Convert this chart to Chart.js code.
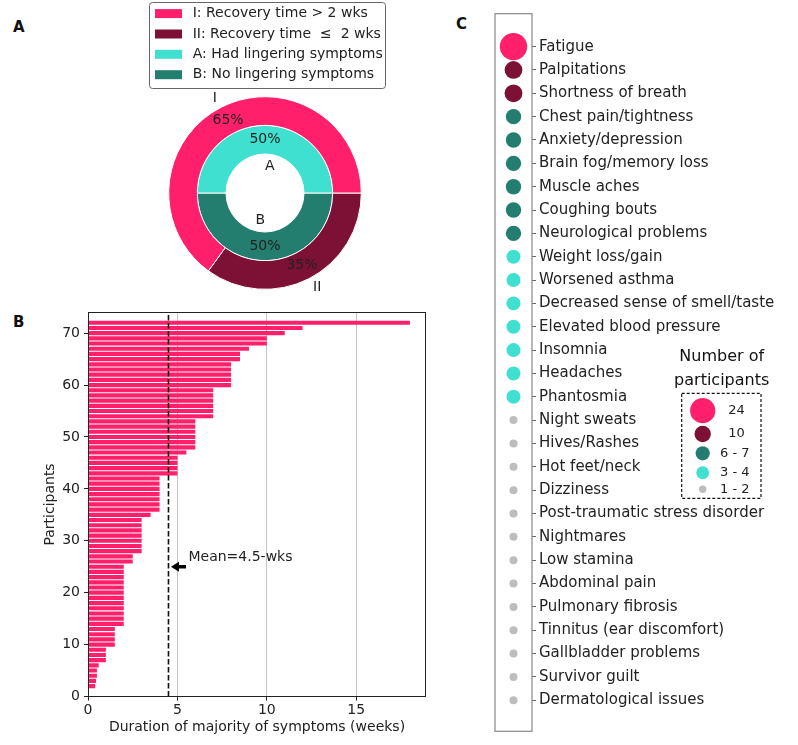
<!DOCTYPE html>
<html>
<head>
<meta charset="utf-8">
<script src="https://cdn.jsdelivr.net/npm/chart.js@4.4.1/dist/chart.umd.min.js"></script>
<style>
  body { margin: 0; background: #fff; }
  #fig { position: relative; width: 798px; height: 745px; overflow: hidden; }
  .panel { position: absolute; }
  .tag { position: absolute; font: bold 15px 'DejaVu Sans', sans-serif; line-height: 18px; color: #111; }
</style>
</head>
<body>
<div id="fig">
  <div class="tag" style="left:13px;top:18px">A</div>
  <div class="tag" style="left:13px;top:313px">B</div>
  <div class="tag" style="left:456px;top:15px">C</div>
  <canvas id="pie" class="panel" width="260" height="300" style="left:140px;top:0px"></canvas>
  <canvas id="bars" class="panel" width="440" height="445" style="left:0px;top:300px"></canvas>
  <canvas id="dots" class="panel" width="358" height="745" style="left:440px;top:0px"></canvas>
</div>
<script>
// ---- panel A: recovery / lingering symptoms
const recoveryLabels = ['I', 'II'];
const recoveryPct = [65, 35];
const lingeringLabels = ['A', 'B'];
const lingeringPct = [50, 50];
const legendText = [
  'I: Recovery time > 2 wks',
  'II: Recovery time  \u2264  2 wks',
  'A: Had lingering symptoms',
  'B: No lingering symptoms'
];

// ---- panel B: duration per participant (weeks), sorted
const durations = [
  0, 0.4, 0.45, 0.5, 0.5, 0.6,
  1, 1, 1,
  1.5, 1.5, 1.5, 1.5,
  2, 2, 2, 2, 2, 2, 2, 2, 2, 2, 2, 2,
  2.5, 2.5,
  3, 3, 3, 3, 3, 3, 3,
  3.5,
  4, 4, 4, 4, 4, 4, 4,
  5, 5, 5, 5,
  5.5,
  6, 6, 6, 6, 6, 6,
  7, 7, 7, 7, 7, 7,
  8, 8, 8, 8, 8,
  8.5, 8.5,
  9,
  10, 10,
  11, 12, 18
];
const meanWeeks = 4.5;
const xTicksB = [0, 5, 10, 15];
const yTicksB = [0, 10, 20, 30, 40, 50, 60, 70];

// ---- panel C: symptoms and number of participants
const symptoms = [
  'Fatigue', 'Palpitations', 'Shortness of breath', 'Chest pain/tightness',
  'Anxiety/depression', 'Brain fog/memory loss', 'Muscle aches', 'Coughing bouts',
  'Neurological problems', 'Weight loss/gain', 'Worsened asthma',
  'Decreased sense of smell/taste', 'Elevated blood pressure', 'Insomnia',
  'Headaches', 'Phantosmia', 'Night sweats', 'Hives/Rashes', 'Hot feet/neck',
  'Dizziness', 'Post-traumatic stress disorder', 'Nightmares', 'Low stamina',
  'Abdominal pain', 'Pulmonary fibrosis', 'Tinnitus (ear discomfort)',
  'Gallbladder problems', 'Survivor guilt', 'Dermatological issues'
];
const counts = [24, 10, 10, 7, 7, 6, 6, 6, 6, 4, 4, 3, 3, 3, 3, 3,
  2, 2, 2, 2, 1, 1, 1, 1, 1, 1, 1, 1, 1];
const binLabels = ['  24', '  10', '6 - 7', '3 - 4', '1 - 2'];
const binCounts = [24, 10, 7, 4, 2];

const PINK = '#ff1f6b', DARK = '#7d1035', TEAL = '#237e70', TURQ = '#40e0d0', GREY = '#bdbdbd';
const FONT = "'DejaVu Sans', sans-serif";
Chart.defaults.font.family = FONT;
Chart.defaults.color = '#222';

function colorFor(c) {
  if (c >= 20) return PINK;
  if (c >= 8) return DARK;
  if (c >= 5) return TEAL;
  if (c >= 3) return TURQ;
  return GREY;
}
function radiusFor(c) {
  if (c >= 20) return 13.7;
  if (c >= 8) return 8.9;
  if (c >= 5) return 7.7;
  if (c >= 3) return 7.0;
  return 4.0;
}

// ---------- A ----------
const recoveryColors = [PINK, DARK];
const lingeringColors = [TURQ, TEAL];

function mplAlign(mid) {
  const t = -mid;
  const c = Math.cos(t);
  if (Math.abs(c) < 1e-9) return Math.sin(t) > 0 ? 'left' : 'right';
  return c > 0 ? 'left' : 'right';
}

const ringText = {
  id: 'ringText',
  afterDraw(chart) {
    const ctx = chart.ctx;
    ctx.save();
    ctx.font = '14px ' + FONT;
    ctx.fillStyle = '#222';
    ctx.textBaseline = 'middle';
    const outer = chart.getDatasetMeta(0).data;
    const inner = chart.getDatasetMeta(1).data;
    const outNames = recoveryLabels.slice().reverse();
    const outPct = recoveryPct.slice().reverse();
    const inNames = lingeringLabels.slice().reverse();
    const inPct = lingeringPct.slice().reverse();
    outer.forEach((a, i) => {
      const mid = (a.startAngle + a.endAngle) / 2;
      const R = a.outerRadius;
      ctx.textAlign = mplAlign(mid);
      ctx.fillText(outNames[i], a.x + Math.cos(mid) * R * 1.1, a.y + Math.sin(mid) * R * 1.1);
      ctx.textAlign = 'center';
      ctx.fillText(outPct[i] + '%', a.x + Math.cos(mid) * R * 0.845, a.y + Math.sin(mid) * R * 0.845);
    });
    inner.forEach((a, i) => {
      const mid = (a.startAngle + a.endAngle) / 2;
      const rm = (a.innerRadius + a.outerRadius) / 2;
      ctx.textAlign = 'center';
      ctx.fillText(inPct[i] + '%', a.x + Math.cos(mid) * rm, a.y + Math.sin(mid) * rm);
      const rn = a.outerRadius * 0.4;
      ctx.textAlign = mplAlign(mid);
      ctx.fillText(inNames[i], a.x + Math.cos(mid) * rn, a.y + Math.sin(mid) * rn);
    });

    // legend box
    ctx.strokeStyle = '#666';
    ctx.lineWidth = 1;
    ctx.beginPath();
    ctx.roundRect(9.5, 2.5, 236, 86, 3);
    ctx.stroke();
    const swatches = recoveryColors.concat(lingeringColors);
    const rows = [13.6, 34, 54.3, 74.7];
    ctx.textAlign = 'left';
    legendText.forEach((t, i) => {
      ctx.fillStyle = swatches[i];
      ctx.fillRect(15, rows[i] - 4.5, 27, 9);
      ctx.fillStyle = '#222';
      ctx.fillText(t, 52.7, rows[i]);
    });
    ctx.restore();
  }
};

new Chart(document.getElementById('pie'), {
  type: 'doughnut',
  data: {
    labels: recoveryLabels.slice().reverse(),
    datasets: [
      { data: recoveryPct.slice().reverse(), backgroundColor: recoveryColors.slice().reverse(), borderColor: '#fff', borderWidth: 1 },
      { data: lingeringPct.slice().reverse(), backgroundColor: lingeringColors.slice().reverse(), borderColor: '#fff', borderWidth: 1 }
    ]
  },
  options: {
    responsive: false,
    animation: false,
    rotation: 90,
    cutout: '40.5%',
    layout: { padding: { left: 28.2, right: 38.2, top: 96.2, bottom: 10.2 } },
    plugins: { legend: { display: false }, tooltip: { enabled: false } }
  },
  plugins: [ringText]
});

// ---------- B ----------
const meanMarker = {
  id: 'meanMarker',
  afterDraw(chart) {
    const { ctx, chartArea: area } = chart;
    const xs = chart.scales.x, ys = chart.scales.y;
    ctx.save();
    const mx = xs.getPixelForValue(meanWeeks);
    ctx.strokeStyle = '#111';
    ctx.lineWidth = 1.6;
    ctx.setLineDash([5.5, 2.5]);
    ctx.beginPath();
    ctx.moveTo(mx, area.bottom);
    ctx.lineTo(mx, area.top);
    ctx.stroke();
    ctx.setLineDash([]);

    // spines
    ctx.strokeStyle = '#222';
    ctx.lineWidth = 1;
    ctx.strokeRect(Math.round(area.left) + 0.5, Math.round(area.top) + 0.5,
      Math.round(area.width) - 1, Math.round(area.height));

    // arrow + text
    const ay = ys.getPixelForValue(25);
    const tip = mx + 2.5;
    ctx.fillStyle = '#000';
    ctx.beginPath();
    ctx.moveTo(tip, ay);
    ctx.lineTo(tip + 8, ay - 5);
    ctx.lineTo(tip + 8, ay - 1.8);
    ctx.lineTo(tip + 15, ay - 1.8);
    ctx.lineTo(tip + 15, ay + 1.8);
    ctx.lineTo(tip + 8, ay + 1.8);
    ctx.lineTo(tip + 8, ay + 5);
    ctx.closePath();
    ctx.fill();
    ctx.font = '14px ' + FONT;
    ctx.fillStyle = '#222';
    ctx.textAlign = 'left';
    ctx.textBaseline = 'middle';
    ctx.fillText('Mean=' + meanWeeks + '-wks', mx + 20, ay - 9);
    ctx.restore();
  }
};

new Chart(document.getElementById('bars'), {
  type: 'bar',
  data: {
    datasets: [{
      data: durations.map((d, i) => ({ x: d, y: i + 1 })),
      backgroundColor: PINK,
      borderWidth: 0,
      barPercentage: 0.8,
      categoryPercentage: 1
    }]
  },
  options: {
    indexAxis: 'y',
    responsive: false,
    animation: false,
    layout: { padding: { top: 11, right: 14, left: 0, bottom: 0 } },
    plugins: { legend: { display: false }, tooltip: { enabled: false } },
    scales: {
      x: {
        type: 'linear', min: 0, max: 18.9, z: 1,
        afterBuildTicks: s => { s.ticks = xTicksB.map(v => ({ value: v })); },
        afterFit: s => { s.height = 48.5; },
        grid: {
          color: c => (c.tick && c.tick.value === 0) ? 'rgba(0,0,0,0)' : '#c4c4c4',
          tickColor: '#222', tickLength: 4, lineWidth: 1
        },
        border: { display: false },
        ticks: { font: { size: 14 }, color: '#222', padding: 1, maxRotation: 0 },
        title: {
          display: true, text: 'Duration of majority of symptoms (weeks)',
          font: { size: 14 }, color: '#222', padding: { top: 0, bottom: 9.6 }
        }
      },
      y: {
        type: 'linear', min: 0, max: 74, offset: false,
        afterBuildTicks: s => { s.ticks = yTicksB.map(v => ({ value: v })); },
        afterFit: s => { s.width = 88; },
        grid: { drawOnChartArea: false, offset: false, tickColor: '#222', tickLength: 4 },
        border: { display: false },
        ticks: { font: { size: 14 }, color: '#222', padding: 4 },
        title: {
          display: true, text: 'Participants',
          font: { size: 14 }, color: '#222', padding: { top: 42, bottom: 0 }
        }
      }
    }
  },
  plugins: [meanMarker]
});

// ---------- C ----------
const sizeLegend = {
  id: 'sizeLegend',
  afterDraw(chart) {
    const { ctx, chartArea: area } = chart;
    ctx.save();
    ctx.strokeStyle = '#888';
    ctx.lineWidth = 1.2;
    ctx.strokeRect(area.left, area.top, area.width, area.height);

    ctx.fillStyle = '#111';
    ctx.font = '16px ' + FONT;
    ctx.textAlign = 'center';
    ctx.textBaseline = 'middle';
    ctx.fillText('Number of', 281.7, 357.3);
    ctx.fillText('participants', 281.7, 380.7);

    ctx.strokeStyle = '#111';
    ctx.lineWidth = 1.2;
    ctx.setLineDash([3, 2]);
    ctx.strokeRect(241.7, 393.3, 79.3, 105);
    ctx.setLineDash([]);

    const rows = [410.7, 434, 453.3, 472.7, 489.3];
    ctx.font = '13px ' + FONT;
    ctx.textAlign = 'left';
    binCounts.forEach((c, i) => {
      ctx.fillStyle = colorFor(c);
      ctx.beginPath();
      ctx.arc(262.7, rows[i], radiusFor(c) * 0.92, 0, Math.PI * 2);
      ctx.fill();
      ctx.fillStyle = '#222';
      ctx.fillText(binLabels[i], 280, rows[i]);
    });
    ctx.restore();
  }
};

new Chart(document.getElementById('dots'), {
  type: 'scatter',
  data: {
    datasets: [{
      data: symptoms.map((s, i) => ({ x: 0, y: i })),
      pointRadius: c => radiusFor(counts[c.dataIndex]),
      pointHoverRadius: c => radiusFor(counts[c.dataIndex]),
      pointBackgroundColor: c => colorFor(counts[c.dataIndex]),
      pointBorderWidth: 0
    }]
  },
  options: {
    responsive: false,
    animation: false,
    layout: { padding: { left: 55, top: 11.7, bottom: 7, right: 0 } },
    plugins: { legend: { display: false }, tooltip: { enabled: false } },
    scales: {
      x: { display: false, min: -1, max: 1 },
      y: {
        position: 'right', reverse: true, min: -1.41, max: 29.33,
        afterBuildTicks: s => { s.ticks = symptoms.map((_, i) => ({ value: i })); },
        afterFit: s => { s.width = 266; },
        grid: { drawOnChartArea: false, tickLength: 4, tickColor: '#666' },
        border: { display: false },
        ticks: {
          autoSkip: false, font: { size: 15 }, color: '#222', padding: 3,
          callback: (v, i) => symptoms[i]
        }
      }
    }
  },
  plugins: [sizeLegend]
});
</script>
</body>
</html>
